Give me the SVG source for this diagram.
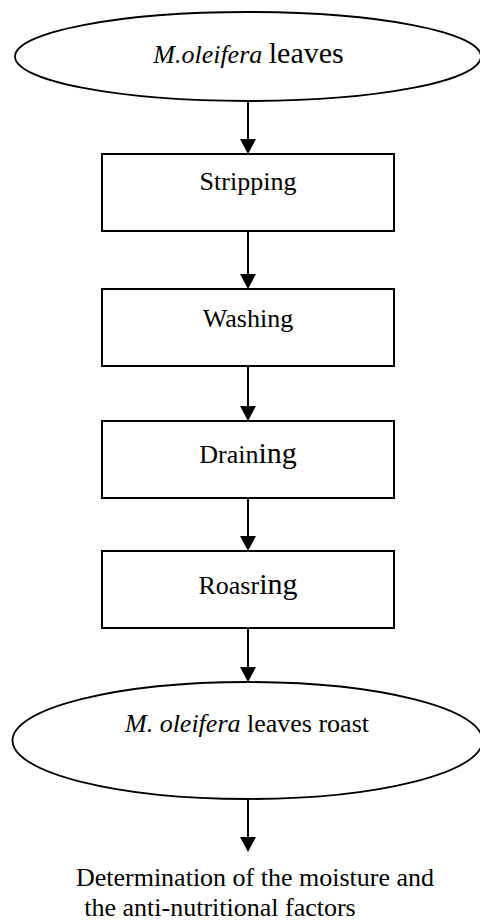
<svg xmlns="http://www.w3.org/2000/svg" width="480" height="924" viewBox="0 0 480 924">
<style>
.shape{fill:#fff;stroke:#000;stroke-width:2}
.ell{fill:#fff;stroke:#000;stroke-width:1.8}
.t{font-family:"Liberation Serif","Times New Roman",serif;font-size:26px;fill:#000}
.c{text-anchor:middle}
.it{font-style:italic}
.big{font-size:30px}
.conn line{stroke:#000;stroke-width:2}
</style>
<defs>
<marker id="ah" markerUnits="userSpaceOnUse" viewBox="0 0 15 16" markerWidth="15" markerHeight="16" refX="0" refY="8" orient="auto">
<path d="M0,0 L15,8 L0,16 z" fill="#000"/>
</marker>
</defs>
<rect width="480" height="924" fill="#fff"/>
<g id="n-leaves">
<ellipse class="ell" cx="248" cy="56.5" rx="233" ry="44.5"/>
<text class="t c" x="248.5" y="63"><tspan class="it">M.oleifera</tspan> <tspan class="big">leaves</tspan></text>
</g>
<g id="n-stripping">
<rect class="shape" x="102" y="154" width="292" height="77"/>
<text class="t c" x="248" y="190">Stripping</text>
</g>
<g id="n-washing">
<rect class="shape" x="102" y="289" width="292" height="77"/>
<text class="t c" x="248" y="327">Washing</text>
</g>
<g id="n-draining">
<rect class="shape" x="102" y="421" width="292" height="77"/>
<text class="t c" x="248" y="463">Drain<tspan class="big">ing</tspan></text>
</g>
<g id="n-roasring">
<rect class="shape" x="102" y="551" width="292" height="77"/>
<text class="t c" x="248" y="594">Roasr<tspan class="big">ing</tspan></text>
</g>
<g id="n-roast">
<ellipse class="ell" cx="247.5" cy="740.5" rx="235" ry="58.5"/>
<text class="t c" x="247" y="732"><tspan class="it">M. oleifera</tspan> leaves roast</text>
</g>
<g id="n-determination">
<text class="t c" x="255" y="886">Determination of the moisture and</text>
<text class="t c" x="220" y="916">the anti-nutritional factors</text>
</g>
<g id="connectors" class="conn">
<line x1="248" y1="101" x2="248" y2="139" marker-end="url(#ah)"/>
<line x1="248" y1="231" x2="248" y2="274" marker-end="url(#ah)"/>
<line x1="248" y1="366" x2="248" y2="406" marker-end="url(#ah)"/>
<line x1="248" y1="498" x2="248" y2="536" marker-end="url(#ah)"/>
<line x1="248" y1="628" x2="248" y2="667" marker-end="url(#ah)"/>
<line x1="248" y1="799" x2="248" y2="837" marker-end="url(#ah)"/>
</g>
</svg>
